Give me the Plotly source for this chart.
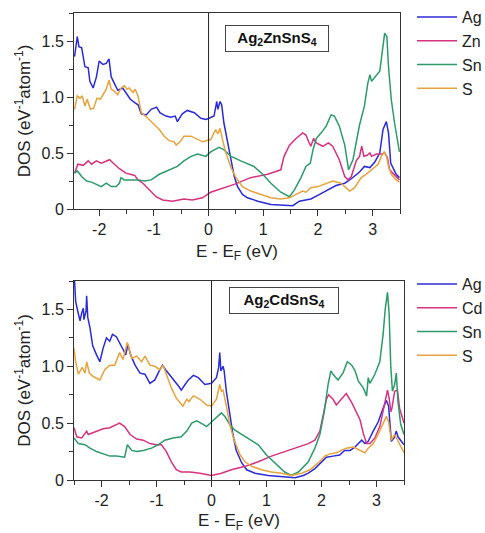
import plotly.graph_objects as go

# ---------------- data: Ag2ZnSnS4 (top) ----------------
zn_ag_E = [-2.45,-2.40,-2.37,-2.32,-2.26,-2.20,-2.17,-2.11,-2.05,-2.00,-1.93,-1.87,-1.82,-1.78,-1.74,-1.66,-1.57,-1.51,-1.43,-1.35,-1.29,-1.23,-1.14,-1.05,-0.95,-0.89,-0.78,-0.69,-0.61,-0.57,-0.48,-0.39,-0.26,-0.14,-0.05,
           0.01,0.10,0.15,0.17,0.21,0.24,0.28,0.35,0.41,0.47,0.53,0.62,0.71,0.90,1.14,1.38,1.54,1.66,1.75,1.87,2.03,2.18,2.33,2.49,2.61,2.76,2.85,2.95,3.04,3.13,3.19,3.25,3.29,3.33,3.37,3.43,3.49]
zn_ag_D = [1.36,1.54,1.45,1.44,1.27,1.26,1.14,1.08,1.18,1.32,1.29,1.30,1.34,1.18,1.14,1.06,1.08,1.04,0.98,0.95,0.93,0.85,0.84,0.89,0.91,0.86,0.83,0.82,0.83,0.78,0.85,0.88,0.86,0.81,0.80,
           0.81,0.83,0.96,0.89,0.96,0.93,0.77,0.59,0.41,0.29,0.20,0.13,0.10,0.07,0.04,0.03,0.03,0.07,0.08,0.09,0.13,0.17,0.21,0.23,0.27,0.33,0.38,0.37,0.42,0.50,0.71,0.78,0.68,0.41,0.37,0.31,0.28]

zn_zn_E = [-2.45,-2.39,-2.29,-2.20,-2.14,-2.05,-1.96,-1.87,-1.81,-1.72,-1.63,-1.51,-1.42,-1.35,-1.29,-1.20,-1.08,-0.96,-0.84,-0.66,-0.45,-0.30,-0.11,0.04,
           0.16,0.47,0.77,1.08,1.32,1.38,1.48,1.60,1.72,1.78,1.84,1.87,1.92,1.97,2.09,2.19,2.27,2.39,2.49,2.55,2.61,2.70,2.76,2.80,2.84,2.90,2.95,2.98,3.07,3.16,3.22,3.27,3.31,3.37,3.49]
zn_zn_D = [0.32,0.40,0.39,0.43,0.40,0.43,0.41,0.43,0.44,0.40,0.36,0.32,0.31,0.30,0.26,0.23,0.17,0.11,0.08,0.07,0.09,0.08,0.10,0.15,
           0.17,0.22,0.28,0.31,0.35,0.47,0.57,0.63,0.68,0.66,0.59,0.56,0.63,0.59,0.56,0.59,0.56,0.44,0.29,0.26,0.29,0.43,0.47,0.56,0.47,0.48,0.50,0.47,0.49,0.49,0.50,0.46,0.35,0.32,0.26]

zn_sn_E = [-2.45,-2.40,-2.32,-2.23,-2.14,-2.05,-1.96,-1.87,-1.78,-1.69,-1.63,-1.60,-1.54,-1.42,-1.29,-1.17,-1.05,-0.90,-0.72,-0.57,-0.45,-0.32,-0.20,-0.05,0.04,
           0.19,0.28,0.41,0.59,0.83,0.99,1.14,1.32,1.48,1.57,1.69,1.78,1.86,1.91,1.97,2.06,2.15,2.24,2.30,2.39,2.49,2.56,2.64,2.76,2.85,2.91,2.95,2.98,3.04,3.13,3.18,3.22,3.26,3.29,3.34,3.40,3.49]
zn_sn_D = [0.32,0.34,0.29,0.25,0.24,0.22,0.20,0.23,0.20,0.20,0.23,0.28,0.26,0.26,0.26,0.25,0.26,0.31,0.35,0.38,0.43,0.47,0.49,0.47,0.51,
           0.55,0.53,0.47,0.43,0.38,0.31,0.23,0.15,0.11,0.17,0.28,0.38,0.41,0.53,0.63,0.68,0.74,0.84,0.83,0.74,0.57,0.35,0.44,0.75,0.92,1.12,1.20,1.14,1.18,1.23,1.42,1.57,1.54,1.27,0.98,0.77,0.51]

zn_s_E = [-2.45,-2.40,-2.35,-2.31,-2.26,-2.22,-2.16,-2.10,-2.04,-1.98,-1.93,-1.87,-1.82,-1.78,-1.72,-1.66,-1.60,-1.54,-1.49,-1.45,-1.38,-1.34,-1.29,-1.23,-1.11,-0.99,-0.90,-0.81,-0.72,-0.63,-0.59,-0.52,-0.45,-0.32,-0.20,-0.11,
          0.04,0.13,0.17,0.21,0.25,0.31,0.41,0.50,0.62,0.77,0.96,1.14,1.32,1.48,1.60,1.72,1.78,1.87,2.00,2.15,2.27,2.42,2.52,2.58,2.67,2.79,2.88,2.98,3.10,3.16,3.21,3.25,3.29,3.34,3.43,3.49]
zn_s_D = [0.89,1.01,0.99,1.01,0.92,0.98,0.89,0.90,0.99,0.98,1.02,1.07,1.15,1.07,1.05,1.02,1.08,1.10,1.07,1.08,1.04,1.07,1.01,0.86,0.81,0.75,0.71,0.65,0.61,0.60,0.57,0.60,0.65,0.65,0.62,0.60,
          0.62,0.71,0.67,0.72,0.63,0.51,0.37,0.28,0.20,0.16,0.13,0.10,0.09,0.10,0.13,0.16,0.15,0.19,0.20,0.23,0.25,0.23,0.19,0.16,0.19,0.28,0.31,0.35,0.40,0.47,0.51,0.48,0.38,0.31,0.26,0.24]

# ---------------- data: Ag2CdSnS4 (bottom) ----------------
cd_ag_E = [-2.50,-2.47,-2.42,-2.39,-2.36,-2.33,-2.32,-2.28,-2.27,-2.25,-2.21,-2.16,-2.09,-2.03,-1.97,-1.91,-1.85,-1.80,-1.73,-1.67,-1.61,-1.56,-1.52,-1.47,-1.39,-1.30,-1.21,-1.12,-1.03,-0.95,-0.89,-0.82,-0.73,-0.64,-0.59,-0.55,-0.48,-0.42,-0.33,-0.24,-0.12,0.00,
           0.09,0.13,0.15,0.17,0.21,0.23,0.27,0.33,0.39,0.45,0.55,0.64,0.79,1.03,1.27,1.52,1.67,1.76,1.88,2.00,2.09,2.21,2.33,2.42,2.52,2.61,2.73,2.79,2.85,2.94,3.03,3.12,3.18,3.22,3.27,3.32,3.36,3.39,3.45,3.50]
cd_ag_D = [1.85,1.57,1.46,1.40,1.47,1.51,1.41,1.49,1.62,1.43,1.34,1.18,1.10,1.04,1.16,1.25,1.22,1.28,1.26,1.21,1.15,1.10,1.19,1.10,1.01,0.94,0.93,0.85,0.88,0.96,1.01,0.96,0.90,0.85,0.82,0.79,0.84,0.88,0.92,0.90,0.84,0.85,
           0.90,0.99,1.12,0.96,1.00,0.96,0.78,0.57,0.40,0.26,0.15,0.09,0.06,0.04,0.03,0.02,0.04,0.06,0.10,0.16,0.20,0.21,0.22,0.26,0.26,0.29,0.35,0.32,0.34,0.43,0.51,0.63,0.70,0.65,0.34,0.37,0.43,0.38,0.34,0.31]

cd_cd_E = [-2.50,-2.45,-2.36,-2.27,-2.24,-2.09,-1.97,-1.85,-1.73,-1.67,-1.58,-1.48,-1.36,-1.24,-1.12,-1.00,-0.91,-0.82,-0.73,-0.64,-0.55,-0.39,-0.21,0.00,
           0.18,0.36,0.61,0.85,1.09,1.33,1.58,1.76,1.88,1.97,2.03,2.09,2.13,2.21,2.27,2.36,2.45,2.55,2.64,2.70,2.76,2.82,2.88,2.97,3.06,3.15,3.20,3.23,3.26,3.28,3.33,3.38,3.42,3.50]
cd_cd_D = [0.46,0.38,0.37,0.43,0.40,0.43,0.45,0.46,0.49,0.50,0.47,0.40,0.36,0.35,0.32,0.31,0.31,0.25,0.16,0.09,0.07,0.07,0.06,0.04,
           0.06,0.09,0.12,0.16,0.21,0.25,0.29,0.32,0.35,0.43,0.57,0.71,0.75,0.71,0.66,0.71,0.76,0.68,0.59,0.53,0.41,0.32,0.32,0.37,0.47,0.66,0.79,0.72,0.60,0.63,0.78,0.79,0.63,0.50]

cd_sn_E = [-2.50,-2.42,-2.30,-2.21,-2.09,-1.97,-1.85,-1.73,-1.61,-1.58,-1.53,-1.45,-1.36,-1.24,-1.09,-0.97,-0.85,-0.70,-0.55,-0.45,-0.36,-0.27,-0.15,-0.09,0.00,
           0.12,0.18,0.24,0.33,0.42,0.55,0.73,0.85,1.00,1.15,1.33,1.45,1.58,1.76,1.88,1.97,2.05,2.12,2.17,2.21,2.30,2.39,2.47,2.55,2.61,2.67,2.76,2.82,2.85,2.88,2.97,3.06,3.12,3.16,3.20,3.23,3.26,3.29,3.33,3.36,3.39,3.44,3.50]
cd_sn_D = [0.37,0.32,0.31,0.28,0.25,0.23,0.21,0.21,0.20,0.20,0.31,0.26,0.25,0.26,0.28,0.31,0.35,0.37,0.38,0.43,0.50,0.52,0.49,0.47,0.51,
           0.56,0.59,0.56,0.49,0.44,0.40,0.35,0.31,0.22,0.15,0.07,0.04,0.07,0.16,0.28,0.40,0.60,0.84,0.96,0.93,0.88,0.94,1.04,1.01,0.96,0.87,0.81,0.74,0.90,0.85,0.93,1.04,1.28,1.51,1.65,1.46,0.99,0.78,0.84,0.94,0.69,0.49,0.40]

cd_s_E = [-2.50,-2.47,-2.42,-2.35,-2.30,-2.27,-2.22,-2.15,-2.03,-1.94,-1.85,-1.76,-1.67,-1.61,-1.53,-1.45,-1.36,-1.27,-1.21,-1.12,-1.03,-0.94,-0.88,-0.82,-0.73,-0.64,-0.58,-0.52,-0.45,-0.41,-0.33,-0.21,-0.09,0.00,
          0.09,0.15,0.18,0.21,0.27,0.33,0.42,0.52,0.61,0.73,0.91,1.09,1.27,1.45,1.64,1.79,1.94,2.06,2.15,2.27,2.36,2.45,2.58,2.70,2.79,2.85,2.94,3.03,3.12,3.18,3.22,3.27,3.33,3.39,3.45,3.50]
cd_s_D = [1.16,1.04,0.93,0.99,0.94,1.04,0.94,0.91,0.88,0.97,1.01,1.01,1.12,1.06,1.21,1.07,1.09,1.04,1.09,1.01,1.00,0.97,1.01,0.93,0.81,0.72,0.68,0.65,0.71,0.69,0.74,0.71,0.66,0.65,
          0.71,0.84,0.78,0.79,0.65,0.49,0.34,0.22,0.16,0.12,0.09,0.07,0.06,0.04,0.06,0.09,0.15,0.21,0.23,0.24,0.26,0.28,0.29,0.26,0.24,0.28,0.32,0.40,0.50,0.56,0.51,0.35,0.40,0.34,0.28,0.24]

top_names = ["Ag", "Zn", "Sn", "S"]
bottom_names = ["Ag", "Cd", "Sn", "S"]
colors = ["#2b2bd6", "#d6337f", "#2e9a6c", "#e6a33e"]
x_tickvals = [-2, -1, 0, 1, 2, 3]
x_ticktext = ["-2", "-1", "0", "1", "2", "3"]
y_tickvals = [0, 0.5, 1.0, 1.5]
y_ticktext = ["0", "0.5", "1.0", "1.5"]
top_label = "Ag<sub>2</sub>ZnSnS<sub>4</sub>"
bottom_label = "Ag<sub>2</sub>CdSnS<sub>4</sub>"

top_series = [(zn_ag_E, zn_ag_D), (zn_zn_E, zn_zn_D), (zn_sn_E, zn_sn_D), (zn_s_E, zn_s_D)]
bot_series = [(cd_ag_E, cd_ag_D), (cd_cd_E, cd_cd_D), (cd_sn_E, cd_sn_D), (cd_s_E, cd_s_D)]

FONT = "Liberation Sans, Arial, sans-serif"
fig = go.Figure()
for (e, d), name, c in zip(top_series, top_names, colors):
    fig.add_trace(go.Scatter(x=e, y=d, mode="lines", name=name, line=dict(color=c, width=1.5),
                             xaxis="x", yaxis="y", legend="legend"))
for (e, d), name, c in zip(bot_series, bottom_names, colors):
    fig.add_trace(go.Scatter(x=e, y=d, mode="lines", name=name, line=dict(color=c, width=1.5),
                             xaxis="x2", yaxis="y2", legend="legend2"))

W, H = 485, 533
L, R, T, B = 74, 81, 13, 53
ph = H - T - B
def py(p):
    return (H - B - p) / ph
def px(p):
    return (p - L) / (W - L - R)

ax_common = dict(showline=True, mirror=True, linecolor="#333", linewidth=1, ticks="outside",
                 ticklen=6, tickcolor="#333", showgrid=False, zeroline=False,
                 tickfont=dict(size=16, family=FONT, color="#222"))
xtitle = dict(text="E - E<sub>F</sub> (eV)", font=dict(size=17, family=FONT, color="#222"), standoff=7)
ytitle = dict(text="DOS (eV<sup>-1</sup>atom<sup>-1</sup>)", font=dict(size=17, family=FONT, color="#222"), standoff=6)

fig.update_layout(
    width=W, height=H, margin=dict(l=L, r=R, t=T, b=B, autoexpand=False),
    paper_bgcolor="white", plot_bgcolor="white",
    font=dict(family=FONT, color="#222"),
    xaxis=dict(ax_common, domain=[0, px(400)], range=[-2.46, 3.5], anchor="y",
               tickvals=x_tickvals, ticktext=x_ticktext, title=xtitle,
               minor=dict(dtick=0.5, ticks="outside", ticklen=4, tickcolor="#333")),
    yaxis=dict(ax_common, domain=[py(209), 1], range=[0, 1.75], anchor="x",
               tickvals=y_tickvals, ticktext=y_ticktext, title=ytitle,
               minor=dict(dtick=0.25, ticks="outside", ticklen=4, tickcolor="#333")),
    xaxis2=dict(ax_common, domain=[0, 1], range=[-2.5, 3.5], anchor="y2",
                tickvals=x_tickvals, ticktext=x_ticktext, title=xtitle,
                minor=dict(dtick=0.5, ticks="outside", ticklen=4, tickcolor="#333")),
    yaxis2=dict(ax_common, domain=[0, py(281)], range=[0, 1.75], anchor="x2",
                tickvals=y_tickvals, ticktext=y_ticktext, title=ytitle,
                minor=dict(dtick=0.25, ticks="outside", ticklen=4, tickcolor="#333")),
    legend=dict(xref="container", yref="container", x=412 / W, y=1.0, xanchor="left", yanchor="top",
                itemwidth=40, font=dict(size=16, family=FONT, color="#222"),
                bgcolor="rgba(0,0,0,0)", tracegroupgap=0),
    legend2=dict(xref="container", yref="container", x=412 / W, y=1 - 267 / H, xanchor="left", yanchor="top",
                 itemwidth=40, font=dict(size=16, family=FONT, color="#222"),
                 bgcolor="rgba(0,0,0,0)", tracegroupgap=0),
    showlegend=True,
)

fig.add_shape(type="line", xref="x", yref="y", x0=0, x1=0, y0=0, y1=1.75, line=dict(color="#222", width=1))
fig.add_shape(type="line", xref="x2", yref="y2", x0=0, x1=0, y0=0, y1=1.75, line=dict(color="#222", width=1))

fig.add_annotation(xref="paper", yref="paper", x=px(277), y=py(38.5), text="<b>" + top_label + "</b>",
                   showarrow=False, xanchor="center", yanchor="middle", width=100, height=23,
                   bordercolor="#444", borderwidth=1, bgcolor="white", font=dict(size=15, family=FONT, color="#111"))
fig.add_annotation(xref="paper", yref="paper", x=px(284), y=py(300.5), text="<b>" + bottom_label + "</b>",
                   showarrow=False, xanchor="center", yanchor="middle", width=106, height=23,
                   bordercolor="#444", borderwidth=1, bgcolor="white", font=dict(size=15, family=FONT, color="#111"))

fig.write_html("out.html")
